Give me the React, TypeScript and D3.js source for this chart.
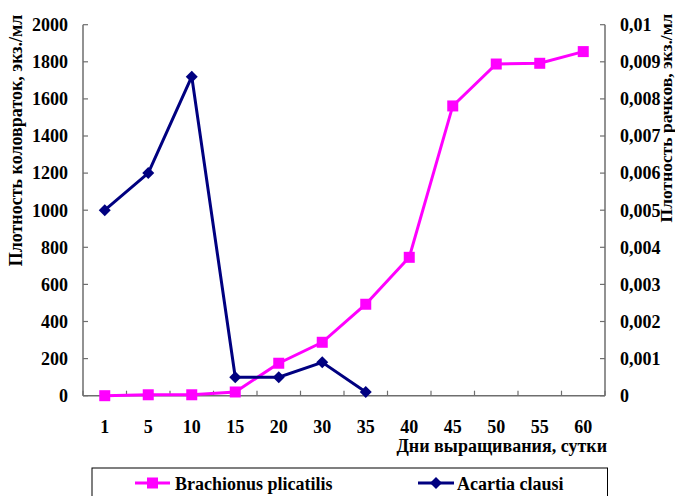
import React from "react";
import * as d3 from "d3";

const days = ["1", "5", "10", "15", "20", "30", "35", "40", "45", "50", "55", "60"];
const brachionus = [0, 5, 5, 20, 175, 288, 493, 746, 1562, 1788, 1792, 1855];
const acartiaDays = ["1", "5", "10", "15", "20", "30", "35"];
const acartia = [0.005, 0.006, 0.0086, 0.0005, 0.0005, 0.0009, 0.0001];
const leftTicks = [0, 200, 400, 600, 800, 1000, 1200, 1400, 1600, 1800, 2000];
const rightTicks = [0, 0.001, 0.002, 0.003, 0.004, 0.005, 0.006, 0.007, 0.008, 0.009, 0.01];

const W = 675;
const H = 496;
const FONT = '"Liberation Serif", "Times New Roman", "DejaVu Serif", serif';
const AXIS = "#6e6e6e";
const MAG = "#FF00FF";
const NAVY = "#000080";
const FS = 18;

export default function App() {
  const left = 83, right = 605, top = 24.7, bottom = 395.7;
  const x = d3.scaleBand<string>().domain(days).range([left, right]).paddingInner(0).paddingOuter(0);
  const cx = (d: string) => (x(d) as number) + x.bandwidth() / 2;
  const yL = d3.scaleLinear().domain([0, 2000]).range([bottom, top]);
  const yR = d3.scaleLinear().domain([0, 0.01]).range([bottom, top]);

  const lineB = d3.line<number>().x((_, i) => cx(days[i])).y((d) => yL(d));
  const lineA = d3.line<number>().x((_, i) => cx(acartiaDays[i])).y((d) => yR(d));

  const fmtR = (v: number) => (v === 0 ? "0" : d3.format(".3~f")(v).replace(".", ","));

  const sq = 11;
  const dia = 6;
  const diamond = (px: number, py: number) =>
    `M${px},${py - dia}L${px + dia},${py}L${px},${py + dia}L${px - dia},${py}Z`;

  const bounds = days.map((d) => x(d) as number).concat([right]);

  return (
    <svg width={W} height={H} style={{ position: "absolute", left: 0, top: 0, background: "#fff", fontFamily: FONT, fontWeight: 700 }}>
      <rect x={0} y={0} width={W} height={H} fill="#fff" />
      {/* axes */}
      <line x1={left} y1={top} x2={left} y2={bottom} stroke={AXIS} strokeWidth={1.5} />
      <line x1={right} y1={top} x2={right} y2={bottom} stroke={AXIS} strokeWidth={1.5} />
      <line x1={left} y1={bottom} x2={right} y2={bottom} stroke={AXIS} strokeWidth={1.5} />
      {leftTicks.map((t) => (
        <g key={"l" + t}>
          <line x1={left} x2={left + 5} y1={yL(t)} y2={yL(t)} stroke={AXIS} strokeWidth={1.2} />
          <text x={68} y={yL(t)} dy="0.35em" textAnchor="end" fontSize={FS}>{t}</text>
        </g>
      ))}
      {rightTicks.map((t) => (
        <g key={"r" + t}>
          <line x1={right - 5} x2={right} y1={yR(t)} y2={yR(t)} stroke={AXIS} strokeWidth={1.2} />
          <text x={620} y={yR(t)} dy="0.35em" textAnchor="start" fontSize={FS}>{fmtR(t)}</text>
        </g>
      ))}
      {bounds.map((b, i) => (
        <line key={"x" + i} x1={b} x2={b} y1={bottom} y2={bottom - 5} stroke={AXIS} strokeWidth={1.2} />
      ))}
      {days.map((d) => (
        <text key={"xt" + d} x={cx(d)} y={433} textAnchor="middle" fontSize={FS}>{d}</text>
      ))}
      <text x={607} y={452} textAnchor="end" fontSize={FS}>Дни выращивания, сутки</text>
      <text transform={`translate(22,140.5) rotate(-90)`} textAnchor="middle" fontSize={FS}>
        Плотность коловраток, экз./мл
      </text>
      <text transform={`translate(671.5,118) rotate(-90)`} textAnchor="middle" fontSize={17.5}>
        Плотность рачков, экз./мл
      </text>

      {/* series */}
      <path d={lineB(brachionus) || ""} fill="none" stroke={MAG} strokeWidth={3} />
      {brachionus.map((v, i) => (
        <rect key={"b" + i} x={cx(days[i]) - sq / 2} y={yL(v) - sq / 2} width={sq} height={sq} fill={MAG} />
      ))}
      <path d={lineA(acartia) || ""} fill="none" stroke={NAVY} strokeWidth={3} />
      {acartia.map((v, i) => (
        <path key={"a" + i} d={diamond(cx(acartiaDays[i]), yR(v))} fill={NAVY} />
      ))}

      {/* legend */}
      <rect x={92} y={468} width={515.5} height={40} fill="#fff" stroke="#000" strokeWidth={1} />
      <line x1={135} x2={170} y1={483} y2={483} stroke={MAG} strokeWidth={3} />
      <rect x={152.5 - sq / 2} y={483 - sq / 2} width={sq} height={sq} fill={MAG} />
      <text x={175} y={490} fontSize={FS}>Brachionus plicatilis</text>
      <line x1={418} x2={454} y1={483} y2={483} stroke={NAVY} strokeWidth={3} />
      <path d={diamond(436, 483)} fill={NAVY} />
      <text x={457} y={490} fontSize={FS}>Acartia clausi</text>
    </svg>
  );
}
